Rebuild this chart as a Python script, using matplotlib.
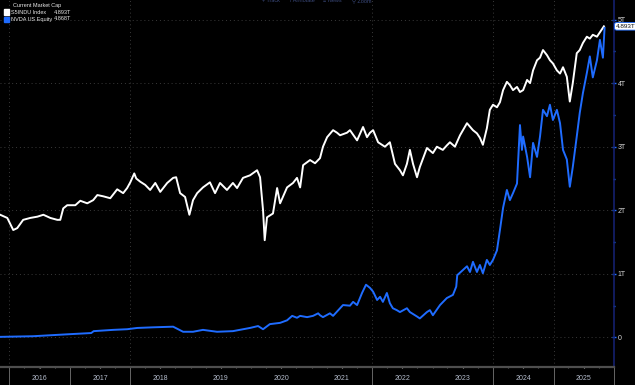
import matplotlib.pyplot as plt
import matplotlib.dates as mdates
import matplotlib.transforms as mtransforms
from matplotlib.patches import Rectangle
import pandas as pd

plt.rcParams['font.family'] = ['Liberation Sans', 'DejaVu Sans']

# market cap, trillions of USD
indu_dates = ['2015-11-07', '2015-12-20', '2016-01-25', '2016-02-18', '2016-03-25', '2016-05-07',
              '2016-06-19', '2016-07-25', '2016-09-05', '2016-10-17', '2016-11-04', '2016-11-22',
              '2016-12-16', '2017-02-03', '2017-03-05', '2017-04-16', '2017-05-22', '2017-06-16',
              '2017-07-22', '2017-09-02', '2017-10-14', '2017-11-19', '2017-12-13', '2018-01-01',
              '2018-01-25', '2018-02-06', '2018-03-02', '2018-04-01', '2018-05-01', '2018-06-01',
              '2018-07-01', '2018-08-12', '2018-09-17', '2018-10-05', '2018-10-29', '2018-11-28',
              '2018-12-24', '2019-01-15', '2019-02-09', '2019-03-16', '2019-04-27', '2019-05-28',
              '2019-06-27', '2019-08-08', '2019-09-13', '2019-10-08', '2019-11-13', '2019-12-25',
              '2020-02-06', '2020-02-24', '2020-03-13', '2020-03-23', '2020-04-06', '2020-05-12',
              '2020-06-06', '2020-06-24', '2020-08-05', '2020-09-10', '2020-10-04', '2020-10-23',
              '2020-11-10', '2020-12-22', '2021-01-21', '2021-02-20', '2021-03-10', '2021-04-04',
              '2021-05-10', '2021-06-03', '2021-06-21', '2021-08-02', '2021-08-20', '2021-10-02',
              '2021-11-07', '2021-12-01', '2021-12-19', '2022-01-07', '2022-02-06', '2022-03-19',
              '2022-04-18', '2022-05-19', '2022-06-18', '2022-07-06', '2022-07-30', '2022-08-17',
              '2022-09-05', '2022-09-29', '2022-10-16', '2022-11-28', '2023-01-03', '2023-01-27',
              '2023-03-04', '2023-03-28', '2023-04-16', '2023-05-16', '2023-06-16', '2023-07-28',
              '2023-09-02', '2023-09-26', '2023-10-14', '2023-11-01', '2023-11-25', '2023-12-13',
              '2024-01-01', '2024-01-25', '2024-02-12', '2024-03-02', '2024-03-25', '2024-04-12',
              '2024-05-01', '2024-05-25', '2024-06-12', '2024-07-01', '2024-07-25', '2024-08-12',
              '2024-08-30', '2024-09-23', '2024-10-11', '2024-10-29', '2024-11-22', '2024-12-10',
              '2024-12-28', '2025-01-21', '2025-02-09', '2025-02-27', '2025-03-22', '2025-04-09',
              '2025-04-27', '2025-05-21', '2025-06-08', '2025-06-27', '2025-07-21', '2025-08-08',
              '2025-08-26', '2025-09-20', '2025-10-08', '2025-10-26', '2025-11-01']
indu_cap = [1.93, 1.88, 1.69, 1.72, 1.85, 1.88,
            1.90, 1.93, 1.88, 1.85, 1.85, 2.03,
            2.08, 2.08, 2.15, 2.11, 2.16, 2.24,
            2.22, 2.19, 2.33, 2.27, 2.35, 2.44,
            2.58, 2.50, 2.45, 2.40, 2.32, 2.43,
            2.29, 2.43, 2.51, 2.52, 2.27, 2.21,
            1.93, 2.16, 2.27, 2.36, 2.44, 2.27,
            2.43, 2.32, 2.43, 2.35, 2.51, 2.55,
            2.63, 2.52, 2.00, 1.53, 1.89, 1.95,
            2.35, 2.11, 2.36, 2.43, 2.51, 2.36,
            2.71, 2.79, 2.74, 2.82, 3.00, 3.15,
            3.26, 3.22, 3.18, 3.22, 3.26, 3.10,
            3.31, 3.15, 3.22, 3.26, 3.07, 3.00,
            3.07, 2.73, 2.63, 2.55, 2.73, 2.95,
            2.73, 2.52, 2.68, 2.98, 2.90, 3.00,
            2.95, 3.02, 3.07, 3.00, 3.18, 3.37,
            3.26, 3.21, 3.14, 3.03, 3.29, 3.58,
            3.66, 3.62, 3.70, 3.89, 4.02, 3.97,
            3.89, 3.94, 3.86, 3.89, 4.05, 4.00,
            4.20, 4.36, 4.40, 4.52, 4.44, 4.36,
            4.31, 4.20, 4.15, 4.25, 4.10, 3.71,
            4.00, 4.47, 4.52, 4.63, 4.73, 4.70,
            4.76, 4.73, 4.80, 4.87, 4.893]

nvda_dates = ['2015-11-07', '2016-05-25', '2016-12-16', '2017-05-10', '2017-05-25', '2017-09-20',
              '2017-12-13', '2018-02-12', '2018-05-18', '2018-09-17', '2018-11-16', '2019-01-15',
              '2019-03-16', '2019-06-09', '2019-09-13', '2019-12-25', '2020-02-12', '2020-03-13',
              '2020-04-23', '2020-06-24', '2020-08-05', '2020-09-05', '2020-10-04', '2020-10-23',
              '2020-12-04', '2021-01-09', '2021-02-09', '2021-02-20', '2021-03-10', '2021-04-21',
              '2021-05-10', '2021-07-09', '2021-08-20', '2021-09-08', '2021-10-02', '2021-11-01',
              '2021-11-25', '2021-12-19', '2022-01-07', '2022-01-31', '2022-02-18', '2022-03-07',
              '2022-03-31', '2022-04-18', '2022-05-06', '2022-05-30', '2022-06-18', '2022-07-30',
              '2022-08-17', '2022-09-29', '2022-10-16', '2022-11-28', '2022-12-16', '2023-01-03',
              '2023-02-15', '2023-03-28', '2023-05-04', '2023-05-24', '2023-05-30', '2023-07-03',
              '2023-07-28', '2023-08-15', '2023-09-02', '2023-09-26', '2023-10-14', '2023-11-01',
              '2023-11-25', '2023-12-13', '2024-01-01', '2024-01-25', '2024-02-12', '2024-03-02',
              '2024-03-25', '2024-04-12', '2024-05-01', '2024-05-25', '2024-06-12', '2024-06-24',
              '2024-07-01', '2024-07-25', '2024-08-12', '2024-08-30', '2024-09-23', '2024-10-11',
              '2024-10-29', '2024-11-22', '2024-12-10', '2024-12-28', '2025-01-21', '2025-02-09',
              '2025-02-27', '2025-03-22', '2025-04-09', '2025-04-27', '2025-05-21', '2025-06-08',
              '2025-06-27', '2025-07-21', '2025-08-08', '2025-08-26', '2025-09-20', '2025-10-08',
              '2025-10-26', '2025-11-05']
nvda_cap = [0.01, 0.02, 0.05, 0.07, 0.10, 0.12,
            0.13, 0.15, 0.16, 0.17, 0.09, 0.09,
            0.12, 0.09, 0.10, 0.15, 0.18, 0.13,
            0.21, 0.23, 0.27, 0.34, 0.31, 0.34,
            0.32, 0.34, 0.38, 0.35, 0.32, 0.38,
            0.34, 0.51, 0.50, 0.56, 0.51, 0.70,
            0.83, 0.78, 0.72, 0.59, 0.64, 0.56,
            0.70, 0.54, 0.46, 0.43, 0.40, 0.46,
            0.40, 0.33, 0.30, 0.40, 0.43, 0.35,
            0.51, 0.62, 0.67, 0.80, 0.98, 1.06,
            1.12, 1.03, 1.19, 1.03, 1.14, 1.01,
            1.22, 1.14, 1.22, 1.37, 1.69, 2.04,
            2.32, 2.16, 2.27, 2.42, 3.34, 2.95,
            3.16, 2.84, 2.52, 3.06, 2.84, 3.16,
            3.58, 3.48, 3.66, 3.42, 3.58, 3.37,
            2.95, 2.80, 2.37, 2.68, 3.16, 3.53,
            3.84, 4.16, 4.42, 4.09, 4.36, 4.68,
            4.40, 4.868]

years = list(range(2016, 2026))
year_labels = [str(y) for y in years]
axis_labels = ['0', '1T', '2T', '3T', '4T', '5T']
legend_names = ['S5INDU Index', 'NVDA US Equity']
legend_values = ['4.893T', '4.868T']

white = '#ffffff'
blue = '#1f6cff'

fig = plt.figure(figsize=(6.35, 3.85), dpi=100, facecolor='black')
ax = fig.add_axes([0, 18 / 385, 614 / 635, 367 / 385])
ax.set_facecolor('black')

ax.plot(pd.to_datetime(indu_dates), indu_cap, color=white, lw=1.4, zorder=3)
ax.plot(pd.to_datetime(nvda_dates), nvda_cap, color=blue, lw=1.4, zorder=3)

ax.set_xlim(pd.Timestamp('2015-11-06'), pd.Timestamp('2026-01-01'))
ax.set_ylim(-0.464, 5.307)

# right value axis
ax.yaxis.tick_right()
ax.set_yticks(range(6))
ax.set_yticklabels(axis_labels)
ax.set_yticks([0.5, 1.5, 2.5, 3.5, 4.5], minor=True)
ax.tick_params(axis='y', which='major', colors=blue, labelcolor='#d8d8d8', labelsize=5,
               length=3, width=1, direction='inout', pad=1)
ax.tick_params(axis='y', which='minor', colors=blue, length=1.5, width=1, direction='inout')
ax.grid(axis='y', color='#3a3a3a', ls=(0, (1, 3)), lw=0.7)

# bottom year axis
ax.set_xticks([pd.Timestamp(f'{y}-07-02') for y in years])
ax.set_xticklabels(year_labels)
ax.xaxis.set_minor_locator(mdates.MonthLocator(bymonth=[1, 4, 7, 10]))
ax.tick_params(axis='x', which='major', colors='#bbbbbb', labelcolor='#b4bccc', labelsize=5,
               length=2, width=0.8, direction='inout', pad=5)
ax.tick_params(axis='x', which='minor', colors='#666666', length=2, width=0.8, direction='inout')

for side in ['top', 'left']:
    ax.spines[side].set_visible(False)
ax.spines['right'].set_color('#14206e')
ax.spines['right'].set_linewidth(1.2)
ax.spines['bottom'].set_color('#4e4e4e')
ax.spines['bottom'].set_linewidth(1.6)

for y in [2016, 2018, 2022, 2024, 2025]:
    ax.axvline(pd.Timestamp(f'{y}-01-01'), color='#3a3a3a', ls=(0, (1, 3)), lw=0.7, zorder=1)
for y in [2016, 2017, 2018, 2022, 2024, 2025, 2026]:
    ax.axvline(pd.Timestamp(f'{y}-01-01'), ymin=-0.06, ymax=0, color='#666666', lw=0.7,
               clip_on=False)

# last value tag on the right axis
trans = mtransforms.blended_transform_factory(ax.transAxes, ax.transData)
ax.text(1.003, indu_cap[-1], legend_values[0], transform=trans, fontsize=4.6, color='#111111',
        va='center', ha='left', clip_on=False, zorder=5,
        bbox=dict(boxstyle='round,pad=0.2,rounding_size=0.3', fc='white', ec='#1f6cff', lw=0.6))

# legend block at top left
fig.text(13 / 635, 1 - 5 / 385, 'Current Market Cap', color='#e8e8e8', fontsize=4.0,
         va='center', ha='left')
for i, (name, val, col) in enumerate(zip(legend_names, legend_values, [white, blue])):
    yc = 1 - (12 + 7 * i) / 385
    fig.add_artist(Rectangle((4 / 635, yc - 2.5 / 385), 5 / 635, 5 / 385, color=col,
                             transform=fig.transFigure))
    fig.text(11 / 635, yc, name, color='#e8e8e8', fontsize=4.0, va='center', ha='left')
    fig.text(54 / 635, yc, val, color='#e8e8e8', fontsize=4.0, va='center', ha='left')

# toolbar remnants at the top edge
for xp, label in [(262, '+ Track'), (290, '/ Annotate'), (323, '\u2261 News'), (352, '\u26b2 Zoom')]:
    fig.text(xp / 635, 1 - 1 / 385, label, color='#3b4a7c', fontsize=4.0, va='center', ha='left')

fig.savefig('out.png', dpi=100, facecolor='black')
